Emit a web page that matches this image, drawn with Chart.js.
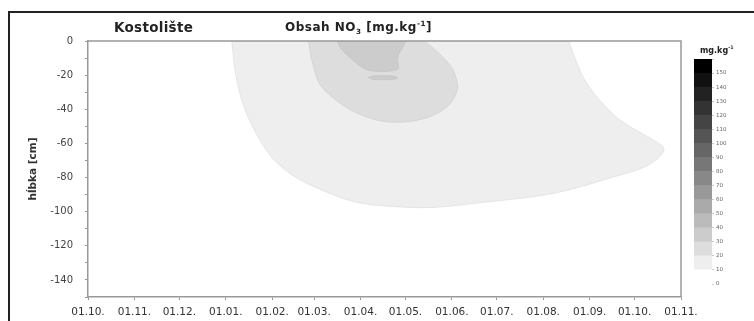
<!DOCTYPE html>
<html>
<head>
<meta charset="utf-8">
<script src="https://cdn.jsdelivr.net/npm/chart.js@4.4.0/dist/chart.umd.min.js"></script>
<style>
  body { margin: 0; background: #fff; }
  #wrap { position: relative; width: 754px; height: 321px; overflow: hidden; background: #fff; }
  .rule { position: absolute; background: #222; }
  canvas { position: absolute; top: 0; }
  #main { left: 0; }
  #scale { left: 694px; }
  .t { position: absolute; font-family: "DejaVu Sans", sans-serif; font-weight: bold; color: #222; white-space: nowrap; }
  .t sub, .t sup { font-size: 60%; line-height: 0; }
</style>
</head>
<body>
<div id="wrap">
  <div class="rule" style="left:8px; top:11px; width:746px; height:1.5px;"></div>
  <div class="rule" style="left:8px; top:11px; width:1.5px; height:310px;"></div>
  <canvas id="main" width="754" height="321"></canvas>
  <canvas id="scale" width="50" height="321"></canvas>
  <div class="t" style="left:114px; top:19px; font-size:13.5px; letter-spacing:0.3px;">Kostolište</div>
  <div class="t" style="left:285px; top:20px; font-size:12px; letter-spacing:0.5px;">Obsah NO<sub>3</sub> [mg.kg<sup>-1</sup>]</div>
  <div class="t" style="left:700px; top:46px; font-size:8px;">mg.kg<sup>-1</sup></div>
</div>
<script>
// time axis: days counted from 01.10.
var monthStarts = [0, 31, 61, 92, 123, 151, 182, 212, 243, 273, 304, 335, 365, 396];
var monthLabels = ['01.10.', '01.11.', '01.12.', '01.01.', '01.02.', '01.03.', '01.04.',
                   '01.05.', '01.06.', '01.07.', '01.08.', '01.09.', '01.10.', '01.11.'];

// contour levels of the legend (mg.kg-1)
var levels = [0, 10, 20, 30, 40, 50, 60, 70, 80, 90, 100, 110, 120, 130, 140, 150, 160];

// 10 mg.kg-1 isoline (outer area)
var band10Day   = [96, 98.3, 101.7, 106.4, 113, 121.7, 130.4, 143.8, 161.9, 177.3, 195.3, 228.8, 262.2, 302.3,
                   324.4, 347.2, 369.2, 380.6, 384.6, 375.9, 367.2, 353.8, 340.5, 331.1, 324.4, 321.1];
var band10Depth = [0, -17.6, -31.8, -43.5, -55.3, -67.1, -74.7, -82.4, -89.4, -94.1, -96.5, -97.6, -94.7, -90.6,
                   -86.5, -80.6, -74.7, -68.8, -62.9, -57.1, -52.9, -45.3, -33.5, -21.8, -8.2, 0];

// 20 mg.kg-1 isoline
var band20Day   = [147.2, 149.8, 155.2, 166.6, 179.9, 197.3, 215.4, 230.8, 242.1, 246.8, 244.1, 237.5, 228.8, 224.1];
var band20Depth = [0, -12.4, -25.9, -35.3, -42.4, -47.1, -47.1, -43.5, -36.5, -27.6, -17.6, -10, -2.9, 0];

// 30 mg.kg-1 isoline
var band30Day   = [166.6, 168.6, 175.3, 183.9, 190.6, 202, 207.4, 206.7, 207.4, 210.7, 212];
var band30Depth = [0, -4.1, -10, -15.9, -17.6, -17.6, -15.9, -11.8, -8.2, -2.9, 0];

// small 30 mg.kg-1 patch below
var patch30Day   = [187, 190, 203, 207, 203, 190];
var patch30Depth = [-21.5, -20.5, -20.5, -21.5, -22.6, -22.6];

function pairs(xs, ys) {
  return xs.map(function(x, i) { return {x: x, y: ys[i]}; });
}

// grey for legend band i (0 = white ... 15 = black)
function grey(i) {
  var g = Math.round(255 * (1 - i / 15));
  return 'rgb(' + g + ',' + g + ',' + g + ')';
}

function contour(data, band, edge, order) {
  return {
    data: data,
    showLine: true,
    fill: 'shape',
    backgroundColor: grey(band),
    borderColor: edge,
    borderWidth: 0.8,
    tension: 0.3,
    pointRadius: 0,
    order: order
  };
}

var tickFont = {family: 'DejaVu Sans', size: 10.5};

// draws the top and right edges of the plot box
var plotBox = {
  id: 'plotBox',
  afterDraw: function(chart) {
    var a = chart.chartArea, c = chart.ctx;
    c.save();
    c.strokeStyle = '#999';
    c.lineWidth = 1.5;
    c.beginPath();
    c.moveTo(a.left, a.top);
    c.lineTo(a.right, a.top);
    c.lineTo(a.right, a.bottom);
    c.stroke();
    c.restore();
  }
};

var ctx = document.getElementById('main');
var chart = new Chart(ctx, {
  type: 'scatter',
  data: {
    datasets: [
      contour(pairs(band10Day, band10Depth), 1, '#e0e0e0', 4),
      contour(pairs(band20Day, band20Depth), 2, '#d0d0d0', 3),
      contour(pairs(band30Day, band30Depth), 3, '#c4c4c4', 2),
      contour(pairs(patch30Day, patch30Depth), 3, '#c4c4c4', 1)
    ]
  },
  options: {
    responsive: false,
    animation: false,
    layout: { padding: {left: 0, top: 41, right: 73, bottom: 0} },
    plugins: { legend: {display: false}, tooltip: {enabled: false} },
    scales: {
      x: {
        type: 'linear',
        min: 0,
        max: 396,
        afterBuildTicks: function(scale) {
          scale.ticks = monthStarts.map(function(v) { return {value: v}; });
        },
        afterFit: function(scale) { scale.height = 24; },
        ticks: {
          autoSkip: false,
          maxRotation: 0,
          padding: 6,
          color: '#333',
          font: tickFont,
          callback: function(v, i) { return monthLabels[i]; }
        },
        grid: { drawOnChartArea: false, tickLength: 3, color: '#999' },
        border: { color: '#999', width: 1.5 }
      },
      y: {
        min: -150,
        max: 0,
        afterFit: function(scale) { scale.width = 88; },
        ticks: {
          stepSize: 10,
          padding: 12,
          color: '#444',
          font: {family: 'DejaVu Sans', size: 10},
          callback: function(v) { return v % 20 === 0 ? v : ''; }
        },
        grid: { drawOnChartArea: false, tickLength: 3, color: '#999' },
        border: { color: '#999', width: 1.5 },
        title: {
          display: true,
          text: 'hĺbka [cm]',
          color: '#333',
          font: {family: 'DejaVu Sans', size: 10.5, weight: 'bold'},
          padding: {top: 27, bottom: 0}
        }
      }
    }
  },
  plugins: [plotBox]
});

// legend scale as a stacked bar, one segment per level band
var scaleSets = [];
for (var i = 0; i < levels.length - 1; i++) {
  scaleSets.push({
    data: [levels[i + 1] - levels[i]],
    backgroundColor: grey(i),
    borderWidth: 0,
    barPercentage: 1,
    categoryPercentage: 1
  });
}

var ctx2 = document.getElementById('scale');
var chart2 = new Chart(ctx2, {
  type: 'bar',
  data: { labels: [''], datasets: scaleSets },
  options: {
    responsive: false,
    animation: false,
    layout: { padding: {left: 0, top: 59, right: 0, bottom: 37} },
    plugins: { legend: {display: false}, tooltip: {enabled: false} },
    scales: {
      x: { stacked: true, display: false },
      y: {
        stacked: true,
        position: 'right',
        min: 0,
        max: 160,
        afterFit: function(scale) { scale.width = 32; },
        ticks: {
          stepSize: 10,
          padding: 2,
          color: '#666',
          font: {family: 'DejaVu Sans', size: 5.5},
          callback: function(v) { return v < 160 ? v : ''; }
        },
        grid: { drawOnChartArea: false, tickLength: 2, color: '#ccc' },
        border: { display: false }
      }
    }
  }
});
</script>
</body>
</html>
